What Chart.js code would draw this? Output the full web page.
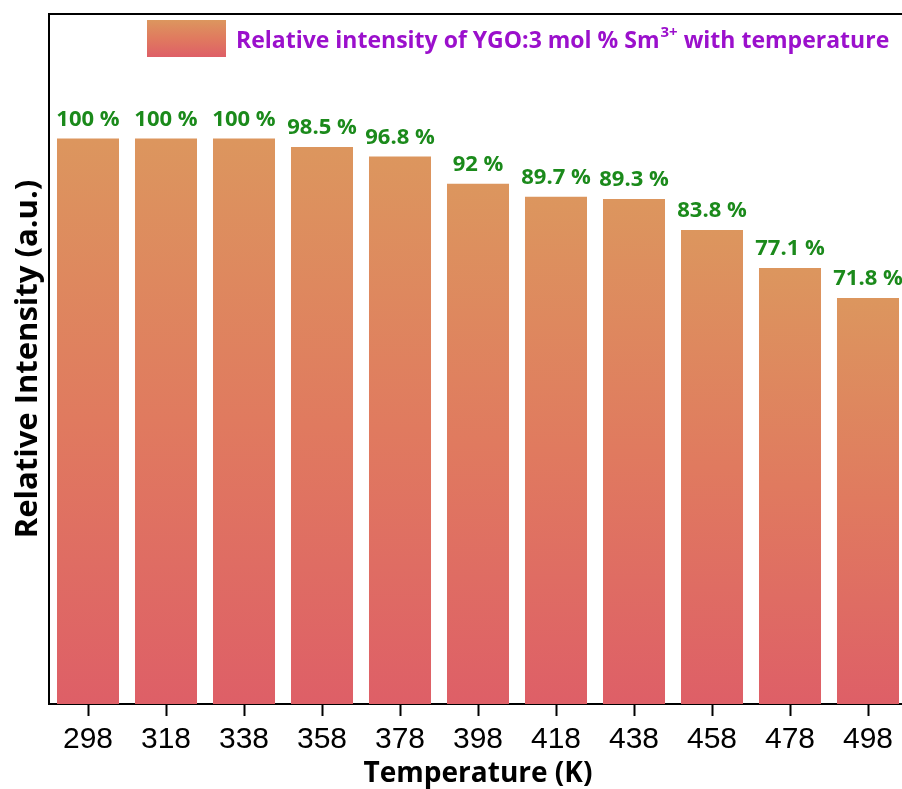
<!DOCTYPE html>
<html>
<head>
<meta charset="utf-8">
<title>Relative intensity vs temperature</title>
<script src="https://cdn.jsdelivr.net/npm/chart.js@4/dist/chart.umd.min.js"></script>
<style>
  html, body { margin: 0; padding: 0; background: #fff; overflow: hidden; }
  #wrap { width: 907px; height: 789px; position: relative; }
</style>
</head>
<body>
<div id="wrap"><canvas id="chart"></canvas></div>
<script>
/* -----------------------------
   Data
------------------------------ */
const temperatures = ['298', '318', '338', '358', '378', '398', '418', '438', '458', '478', '498'];
const intensity = [100, 100, 100, 98.5, 96.8, 92, 89.7, 89.3, 83.8, 77.1, 71.8];
const legendText = ['Relative intensity of YGO:3 mol % Sm', '3+', ' with temperature'];

const TOP_COLOR = '#DC965E';
const MID_COLOR = '#E07A5F';
const BOTTOM_COLOR = '#DE5F67';
const LABEL_COLOR = '#1B8A1B';
const LEGEND_COLOR = '#9B10CC';
const TITLE_FONT = '"Open Sans", Lato, sans-serif';

function barGradient(c, y0, y1) {
  const g = c.createLinearGradient(0, y0, 0, y1);
  g.addColorStop(0, TOP_COLOR);
  g.addColorStop(0.5, MID_COLOR);
  g.addColorStop(1, BOTTOM_COLOR);
  return g;
}

/* -----------------------------
   Labels, frame and legend
------------------------------ */
const decorPlugin = {
  id: 'decor',
  afterDatasetsDraw(chart) {
    const { ctx, chartArea } = chart;
    const meta = chart.getDatasetMeta(0);
    ctx.save();

    // value labels above the bars
    ctx.font = 'bold 22px ' + TITLE_FONT;
    ctx.fillStyle = LABEL_COLOR;
    ctx.textAlign = 'center';
    ctx.textBaseline = 'bottom';
    meta.data.forEach((bar, i) => {
      ctx.fillText(intensity[i] + ' %', bar.x, bar.y - 8);
    });

    // top frame line
    ctx.strokeStyle = '#000';
    ctx.lineWidth = 2;
    ctx.beginPath();
    ctx.moveTo(chartArea.left - 1, chartArea.top);
    ctx.lineTo(chartArea.right, chartArea.top);
    ctx.stroke();

    // legend
    const sx = chartArea.left + 98, sy = chartArea.top + 6, sw = 79, sh = 37;
    ctx.fillStyle = barGradient(ctx, sy, sy + sh);
    ctx.fillRect(sx, sy, sw, sh);

    ctx.fillStyle = LEGEND_COLOR;
    ctx.textAlign = 'left';
    ctx.textBaseline = 'alphabetic';
    let tx = sx + sw + 10;
    const ty = sy + sh / 2 + 9;
    ctx.font = 'bold 23px ' + TITLE_FONT;
    ctx.fillText(legendText[0], tx, ty);
    tx += ctx.measureText(legendText[0]).width;
    ctx.font = 'bold 15px ' + TITLE_FONT;
    ctx.fillText(legendText[1], tx + 1, ty - 11);
    tx += ctx.measureText(legendText[1]).width + 1;
    ctx.font = 'bold 23px ' + TITLE_FONT;
    ctx.fillText(legendText[2], tx, ty);

    ctx.restore();
  }
};

new Chart(document.getElementById('chart'), {
  type: 'bar',
  data: {
    labels: temperatures,
    datasets: [{
      data: intensity,
      backgroundColor(context) {
        const chart = context.chart;
        if (!chart.chartArea || context.dataIndex === undefined) return TOP_COLOR;
        const y = chart.scales.y;
        return barGradient(chart.ctx, y.getPixelForValue(context.raw), y.getPixelForValue(0));
      },
      borderWidth: 0,
      barPercentage: 0.795,
      categoryPercentage: 1
    }]
  },
  options: {
    responsive: true,
    maintainAspectRatio: false,
    animation: false,
    layout: { padding: { top: 14, right: 0, left: 0, bottom: 0 } },
    plugins: {
      legend: { display: false },
      tooltip: { enabled: false }
    },
    scales: {
      x: {
        offset: true,
        afterFit(scale) { scale.height = 85; },
        grid: {
          display: true,
          offset: false,
          drawOnChartArea: false,
          drawTicks: true,
          tickLength: 12,
          tickWidth: 2,
          tickColor: '#000'
        },
        border: { display: true, color: '#000', width: 2 },
        ticks: {
          color: '#000',
          padding: 6,
          font: { family: '"Liberation Sans", Arial, sans-serif', size: 30 }
        },
        title: {
          display: true,
          text: 'Temperature (K)',
          color: '#000',
          padding: { top: 0, bottom: -2 },
          font: { family: TITLE_FONT, size: 28, weight: 'bold' }
        }
      },
      y: {
        min: 0,
        max: 122,
        afterFit(scale) { scale.width = 49; },
        grid: { display: false },
        border: { display: true, color: '#000', width: 2 },
        ticks: { display: false },
        title: {
          display: true,
          text: 'Relative Intensity (a.u.)',
          color: '#000',
          padding: { top: 10, bottom: 0 },
          font: { family: TITLE_FONT, size: 31, weight: 'bold' }
        }
      }
    }
  },
  plugins: [decorPlugin]
});
</script>
</body>
</html>
